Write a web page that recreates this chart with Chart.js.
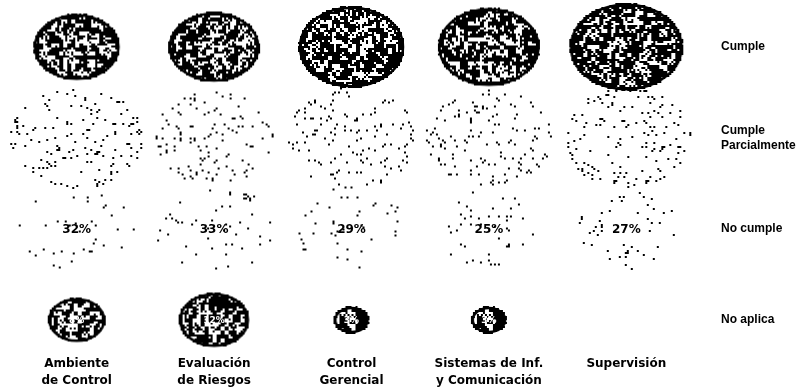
<!DOCTYPE html>
<html>
<head>
<meta charset="utf-8">
<script src="https://cdn.jsdelivr.net/npm/chart.js@4/dist/chart.umd.min.js"></script>
<style>
  html, body { margin: 0; padding: 0; background: #fff; }
  #wrap { width: 801px; height: 388px; }
</style>
</head>
<body>
<div id="wrap"><canvas id="myChart"></canvas></div>
<script>
// columns (bottom labels) and rows (right labels)
const areas = [['Ambiente', 'de Control'], ['Evaluación', 'de Riesgos'], ['Control', 'Gerencial'], ['Sistemas de Inf.', 'y Comunicación'], 'Supervisión'];
const levels = ['Cumple', ['Cumple', 'Parcialmente'], 'No cumple', 'No aplica'];

// % per area (only "No cumple" is printed)
const cumple = [18, 20, 27, 25, 31];
const cumpleParcial = [42, 35, 41, 38, 40];
const noCumple = [32, 33, 29, 25, 27];
const noAplica = [8, 12, 3, 3, 0];

const SIZE = 10.2; // px of half-width per sqrt(%) -> area follows the value
const FLAT = 0.77; // bubbles are squashed ellipses in the original

// cheap repeatable noise for the scanned look
function noise(i, j) {
  const s = Math.sin(i * 12.9898 + j * 78.233) * 43758.5453;
  return s - Math.floor(s);
}

const imgCache = {};
function bubbleImage(rx, kind) {
  const key = kind + rx.toFixed(1);
  if (imgCache[key]) return imgCache[key];
  const ry = rx * FLAT;
  const c = document.createElement('canvas');
  c.width = Math.ceil(rx * 2 + 4);
  c.height = Math.ceil(ry * 2 + 4);
  const g = c.getContext('2d');
  const cx = c.width / 2;
  const cy = c.height / 2;
  g.fillStyle = '#000';
  for (let y = 0; y < c.height; y += 2) {
    for (let x = 0; x < c.width; x += 2) {
      const dx = (x + 1 - cx) / rx;
      const dy = (y + 1 - cy) / ry;
      const d = Math.sqrt(dx * dx + dy * dy);
      if (d > 1) continue;
      const n = noise(x + rx * 3, y + rx * 7);
      let black;
      if (kind === 'dark') {
        // blotchy: white holes come in 2-cell clumps
        const m = noise(Math.floor(x / 4) + rx, Math.floor(y / 4) + 11);
        black = d > 0.88 ? n < 0.85 : (m < 0.45 || n < 0.3);
      } else if (kind === 'light') {
        black = d > 0.9 ? n < 0.09 : n < 0.045;
      } else {
        black = n < 0.025;
      }
      if (black) g.fillRect(x, y, 2, 2);
    }
  }
  if (kind === 'dark') {
    g.strokeStyle = '#000';
    g.lineWidth = 2.5;
    g.beginPath();
    g.ellipse(cx, cy, rx - 1.5, ry - 1.5, 0, 0, Math.PI * 2);
    g.stroke();
  }
  imgCache[key] = c;
  return c;
}

function points(values, row) {
  const out = [];
  values.forEach((v, i) => {
    if (v > 0) out.push({ x: i, y: row, r: SIZE * Math.sqrt(v), v });
  });
  return out;
}

function series(label, values, row, kind, labelColor, labelFont) {
  return {
    label,
    data: points(values, row),
    pointStyle: (c) => bubbleImage(c.raw.r, kind),
    backgroundColor: '#000',
    borderWidth: 0,
    clip: false,
    labelColor,
    labelFont,
  };
}

const valueLabels = {
  id: 'valueLabels',
  afterDatasetsDraw(chart) {
    const { ctx } = chart;
    chart.data.datasets.forEach((ds, di) => {
      if (!ds.labelColor) return;
      chart.getDatasetMeta(di).data.forEach((pt, i) => {
        ctx.save();
        ctx.font = ds.labelFont;
        ctx.fillStyle = ds.labelColor;
        ctx.textAlign = 'center';
        ctx.textBaseline = 'middle';
        ctx.fillText(ds.data[i].v + '%', pt.x, pt.y + 1);
        ctx.restore();
      });
    });
  },
};

const ctx = document.getElementById('myChart').getContext('2d');
const myChart = new Chart(ctx, {
  type: 'bubble',
  data: {
    datasets: [
      series('Cumple', cumple, 0, 'dark'),
      series('Cumple Parcialmente', cumpleParcial, 1, 'light'),
      series('No cumple', noCumple, 2, 'faint', '#000', 'bold 12px "DejaVu Sans"'),
      series('No aplica', noAplica, 3, 'dark', '#fff', 'bold 9px "DejaVu Sans"'),
    ],
  },
  plugins: [valueLabels],
  options: {
    responsive: true,
    maintainAspectRatio: false,
    animation: false,
    events: [],
    layout: { autoPadding: false, padding: { left: 8, right: 0, top: 0, bottom: 0 } },
    plugins: {
      legend: { display: false },
      tooltip: { enabled: false },
    },
    scales: {
      x: {
        type: 'linear',
        min: -0.5,
        max: 4.5,
        afterBuildTicks: (s) => { s.ticks = areas.map((a, i) => ({ value: i })); },
        afterFit: (s) => { s.height = 43; s.paddingLeft = 0; s.paddingRight = 0; },
        grid: { display: false, drawTicks: false },
        border: { display: false },
        ticks: {
          padding: 10,
          maxRotation: 0,
          autoSkip: false,
          color: '#000',
          font: { family: 'DejaVu Sans', size: 12, weight: 'bold', lineHeight: 1.45 },
          callback: (v) => areas[v],
        },
      },
      y: {
        type: 'linear',
        position: 'right',
        reverse: true,
        min: -0.5165,
        max: 3.275,
        afterBuildTicks: (s) => { s.ticks = levels.map((l, i) => ({ value: i })); },
        afterFit: (s) => { s.width = 106; s.paddingTop = 0; s.paddingBottom = 0; },
        grid: { display: false, drawTicks: false },
        border: { display: false },
        ticks: {
          padding: 26,
          autoSkip: false,
          color: '#000',
          font: { family: 'Liberation Sans', size: 12, weight: 'bold', lineHeight: 1.2 },
          callback: (v) => levels[v],
        },
      },
    },
  },
});
</script>
</body>
</html>
